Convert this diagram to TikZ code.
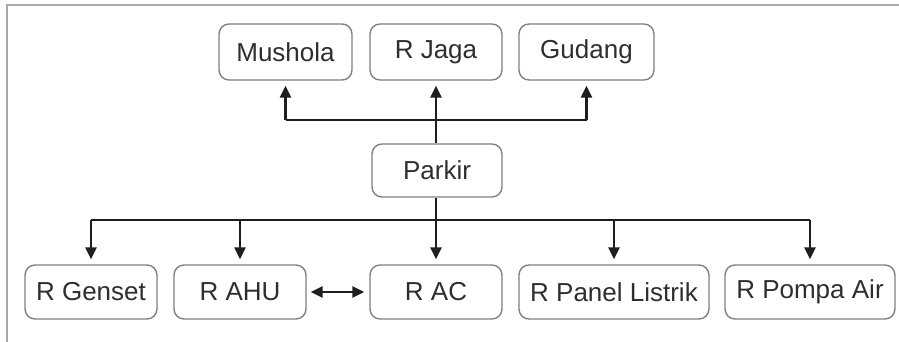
\documentclass[tikz,border=0pt]{standalone}
\usepackage{fontspec}
\setmainfont{Liberation Sans}
\usetikzlibrary{arrows.meta}
\definecolor{boxline}{HTML}{808080}
\definecolor{frameline}{HTML}{A8A8A8}
\definecolor{txt}{HTML}{2E2E2E}
\definecolor{wire}{HTML}{1E1E1E}
\begin{document}
\begin{tikzpicture}[x=0.5pt,y=-0.5pt,
  room/.style={draw=boxline, line width=0.7pt, rounded corners=5pt,
    minimum height=28pt, inner sep=0pt, text=txt,
    font=\fontsize{13}{15}\selectfont},
  tip/.style={Triangle[width=5.5pt,length=6pt]},
  wirearrow/.style={draw=wire, line width=1.2pt,
    -{Triangle[width=5.5pt,length=6pt]}, shorten >=2.5pt},
  wireline/.style={draw=wire, line width=1.2pt}]
\useasboundingbox (0,0) rectangle (899,342);
% outer frame (only top and left edges show)
\draw[frameline, line width=1pt] (7,342) -- (7,5) -- (899,5);

% upper row
\node[room, minimum width=66.5pt] (mushola) at (285.5,52) {Mushola};
\node[room, minimum width=66pt]   (rjaga)   at (436,52)   {R Jaga};
\node[room, minimum width=67.5pt] (gudang)  at (586.5,52) {Gudang};

% centre
\node[room, minimum width=65pt, minimum height=26.5pt] (parkir) at (437,170.5) {Parkir};

% lower row
\node[room, minimum width=66pt, minimum height=27pt] (rgenset) at (91,292)  {R Genset};
\node[room, minimum width=66pt, minimum height=27pt] (rahu)    at (240,292) {R AHU};
\node[room, minimum width=66pt, minimum height=27pt] (rac)     at (436,292) {R AC};
\node[room, minimum width=95pt, minimum height=27pt] (rpanel)  at (614,292) {R Panel Listrik};
\node[room, minimum width=85pt, minimum height=27pt] (rpompa)  at (810,292) {R Pompa Air};

% bus lines
\coordinate (topbus) at (0,120);
\coordinate (lowbus) at (0,220);

% Parkir to the upper row
\draw[wirearrow] (parkir.north -| rjaga.south) -- (rjaga.south);
\draw[wireline] (topbus -| mushola.south) -- (topbus -| gudang.south);
\draw[wirearrow] (topbus -| mushola.south) -- (mushola.south);
\draw[wirearrow] (topbus -| gudang.south) -- (gudang.south);

% Parkir to the lower row
\draw[wirearrow] (parkir.south -| rac.north) -- (rac.north);
\draw[wireline] (lowbus -| rgenset.north) -- (lowbus -| rpompa.north);
\draw[wirearrow] (lowbus -| rgenset.north) -- (rgenset.north);
\draw[wirearrow] (lowbus -| rahu.north) -- (rahu.north);
\draw[wirearrow] (lowbus -| rpanel.north) -- (rpanel.north);
\draw[wirearrow] (lowbus -| rpompa.north) -- (rpompa.north);

% R AHU <-> R AC
\draw[wirearrow, {Triangle[width=5.5pt,length=6pt]}-{Triangle[width=5.5pt,length=6pt]}, shorten <=2pt, shorten >=2.5pt] (rahu.east) -- (rac.west);
\end{tikzpicture}
\end{document}
